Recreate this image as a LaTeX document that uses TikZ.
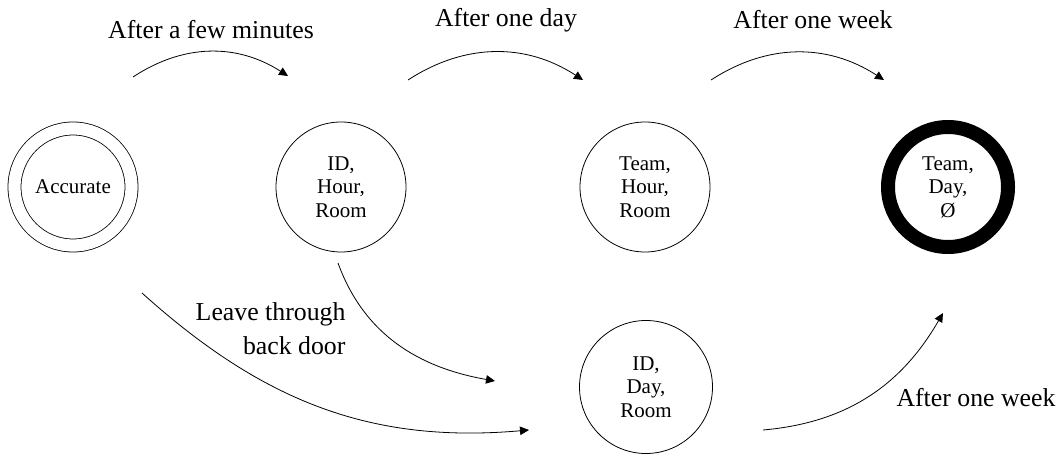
\documentclass[tikz,border=0pt]{standalone}
\usepackage{fontspec}
\setmainfont{Liberation Serif}
\usetikzlibrary{arrows.meta}

\begin{document}
\begin{tikzpicture}[x=1pt,y=-1pt,
  state/.style={circle,draw,line width=0.8pt,inner sep=0pt,align=center,
    font=\fontsize{21}{23.5}\selectfont},
  label/.style={font=\fontsize{25.8}{34}\selectfont},
  flow/.style={line width=0.8pt,-{Triangle[length=9pt,width=8.5pt]}}]
\useasboundingbox (0,0) rectangle (1063,454);

% states
\node[state,double,double distance=12.2pt,minimum size=117pt] (acc) at (73,187) {Accurate};
\node[state,minimum size=130pt] (idh) at (341,187) {ID,\\Hour,\\Room};
\node[state,minimum size=130pt] (tmh) at (645,187) {Team,\\Hour,\\Room};
\node[state,line width=14pt,minimum size=120pt] (tmd) at (948,187) {Team,\\Day,\\Ø};
\node[state,minimum size=133pt] (idd) at (646,387) {ID,\\Day,\\Room};

% arrow end points
\coordinate (a1s) at (133,77);  \coordinate (a1e) at (288,76);
\coordinate (a2s) at (408,80);  \coordinate (a2e) at (583,80);
\coordinate (a3s) at (711,80);  \coordinate (a3e) at (884,80);
\coordinate (b1s) at (338,263); \coordinate (b1e) at (495,381);
\coordinate (b2s) at (142,293); \coordinate (b2e) at (529,430);
\coordinate (c1s) at (763,430); \coordinate (c1e) at (943,313);

% transitions
\draw[flow] (a1s) to[bend left=33] (a1e);
\draw[flow] (a2s) to[bend left=33] (a2e);
\draw[flow] (a3s) to[bend left=33] (a3e);
\draw[flow] (b1s) to[out=-70,in=170] (b1e);
\draw[flow] (b2s) to[out=-42,in=-175] (b2e);
\draw[flow] (c1s) to[out=5,in=-120] (c1e);

% transition labels
\node[label] (l1) at (211,30) {After a few minutes};
\node[label] (l2) at (506,20) {After one day};
\node[label] (l3) at (813,20) {After one week};
\node[label,align=right,anchor=east] (l4) at (349,329) {Leave through\\back door};
\node[label] (l5) at (976,398) {After one week};
\end{tikzpicture}
\end{document}
